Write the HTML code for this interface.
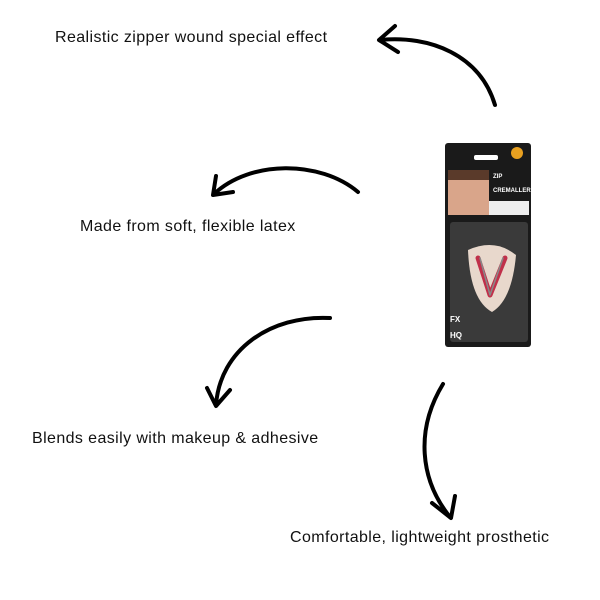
<!DOCTYPE html>
<html><head><style>
body{margin:0;width:600px;height:600px;background:#fff;position:relative;overflow:hidden;font-family:"Liberation Sans",sans-serif}
.t{position:absolute;font-size:16px;color:#111;white-space:nowrap;letter-spacing:0.4px}
</style></head><body>
<div class="t" style="left:55px;top:29px">Realistic zipper wound special effect</div>
<div class="t" style="left:80px;top:218px">Made from soft, flexible latex</div>
<div class="t" style="left:32px;top:430px">Blends easily with makeup &amp; adhesive</div>
<div class="t" style="left:290px;top:529px">Comfortable, lightweight prosthetic</div>
<svg width="600" height="600" style="position:absolute;left:0;top:0" fill="none" stroke="#000" stroke-width="4" stroke-linecap="round" stroke-linejoin="round">
<path d="M495 105 C480 55 430 35 380 40"/>
<path d="M395 26 L379 40 L398 52"/>
<path d="M358 192 C320 160 250 160 214 194"/>
<path d="M216 176 L213 195 L233 192"/>
<path d="M330 318 C270 315 220 350 216 405"/>
<path d="M207 388 L216 406 L230 390"/>
<path d="M443 384 C415 430 420 480 450 517"/>
<path d="M432 503 L451 518 L455 496"/>
<rect x="445" y="143" width="86" height="204" rx="3" fill="#1a1a1a" stroke="none"/>
<rect x="474" y="155" width="24" height="5" rx="2" fill="#fff" stroke="none"/>
<circle cx="517" cy="153" r="6" fill="#e8a020" stroke="none"/>
<rect x="448" y="170" width="41" height="45" fill="#d9a58a" stroke="none"/>
<rect x="448" y="170" width="41" height="10" fill="#5a3a2a" stroke="none"/>
<rect x="489" y="201" width="40" height="14" fill="#eee" stroke="none"/>
<text x="493" y="178" font-size="6" fill="#fff" stroke="none" font-weight="bold">ZIP</text>
<text x="493" y="192" font-size="6" fill="#fff" stroke="none" font-weight="bold">CREMALLERA</text>
<rect x="450" y="222" width="78" height="120" rx="3" fill="#3a3a3a" stroke="none"/>
<path d="M468 250 Q495 238 516 255 Q512 300 492 312 Q470 300 468 250Z" fill="#e8d8cc" stroke="none"/>
<path d="M478 258 L490 295 L505 258" stroke="#c0304a" stroke-width="5"/>
<path d="M480 258 L490 295 L503 258" stroke="#888" stroke-width="1.5"/>
<text x="450" y="322" font-size="8" fill="#fff" stroke="none" font-weight="bold">FX</text>
<text x="450" y="338" font-size="8" fill="#fff" stroke="none" font-weight="bold">HQ</text>
</svg>
</body></html>
